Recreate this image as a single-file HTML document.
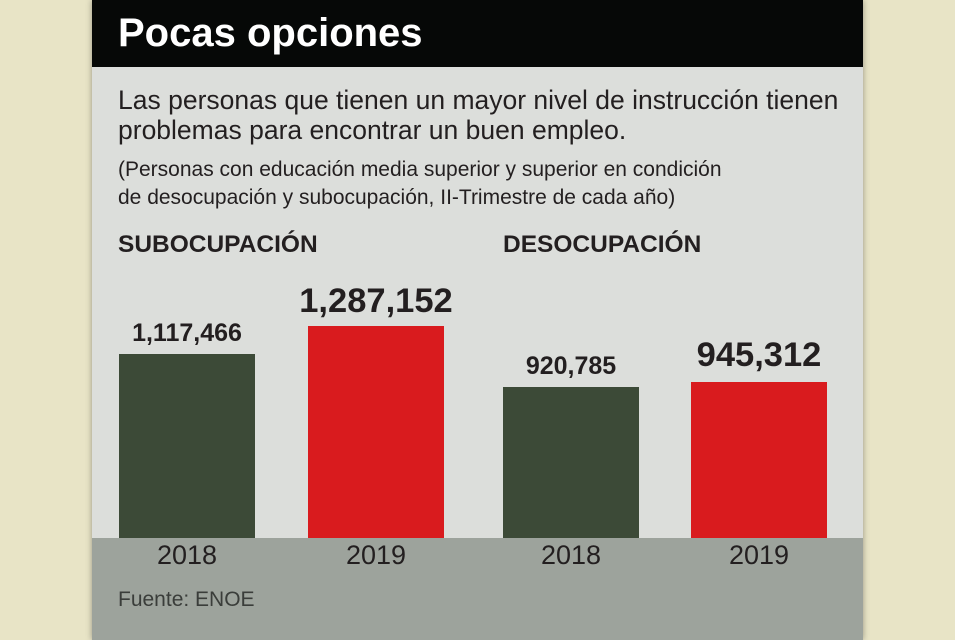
<!DOCTYPE html>
<html><head><meta charset="utf-8"><style>
body{margin:0;width:960px;height:640px;overflow:hidden;background:#e8e4c6;font-family:"Liberation Sans",sans-serif;position:relative}
.p{position:absolute}
#panel{left:92px;top:0;width:771px;height:640px;background:#dcdedb;box-shadow:0 0 6px rgba(0,0,0,.35)}
#title{left:92px;top:0;width:771px;height:67px;background:#060807}
#band{left:92px;top:538px;width:771px;height:102px;background:#9da39c}
.t{color:#231f20;white-space:nowrap}
.bar{position:absolute;width:136px}
.g{background:#3c4a37}.r{background:#d91b1e}
.v{position:absolute;width:200px;text-align:center;font-weight:bold;color:#231f20}
.y{position:absolute;width:136px;text-align:center;font-size:27px;top:540px;color:#231f20}
</style></head><body>
<div class="p" style="left:955px;top:0;width:5px;height:640px;background:#fff"></div>
<div class="p" id="panel"></div>
<div class="p" id="title"></div>
<div class="p" id="band"></div>
<div class="p t" style="left:118px;top:11px;font-size:40px;font-weight:bold;color:#fff">Pocas opciones</div>
<div class="p t" style="left:118px;top:85px;font-size:26.5px;line-height:30px">Las personas que tienen un mayor nivel de instrucción tienen<br>problemas para encontrar un buen empleo.</div>
<div class="p t" style="left:118px;top:156px;font-size:21px;line-height:28px">(Personas con educación media superior y superior en condición<br>de desocupación y subocupación, II-Trimestre de cada año)</div>
<div class="p t" style="left:118px;top:231px;font-size:24.5px;font-weight:bold">SUBOCUPACIÓN</div>
<div class="p t" style="left:503px;top:231px;font-size:24.5px;font-weight:bold">DESOCUPACIÓN</div>
<div class="bar g" style="left:119px;top:354px;height:184px"></div>
<div class="bar r" style="left:308px;top:326px;height:212px"></div>
<div class="bar g" style="left:503px;top:387px;height:151px"></div>
<div class="bar r" style="left:691px;top:382px;height:156px"></div>
<div class="v" style="left:87px;top:319px;font-size:25px">1,117,466</div>
<div class="v" style="left:276px;top:282px;font-size:34.5px">1,287,152</div>
<div class="v" style="left:471px;top:352px;font-size:25px">920,785</div>
<div class="v" style="left:659px;top:336px;font-size:34.5px">945,312</div>
<div class="y" style="left:119px">2018</div>
<div class="y" style="left:308px">2019</div>
<div class="y" style="left:503px">2018</div>
<div class="y" style="left:691px">2019</div>
<div class="p t" style="left:118px;top:588px;font-size:21px;color:#3a3d3a">Fuente: ENOE</div>
</body></html>
